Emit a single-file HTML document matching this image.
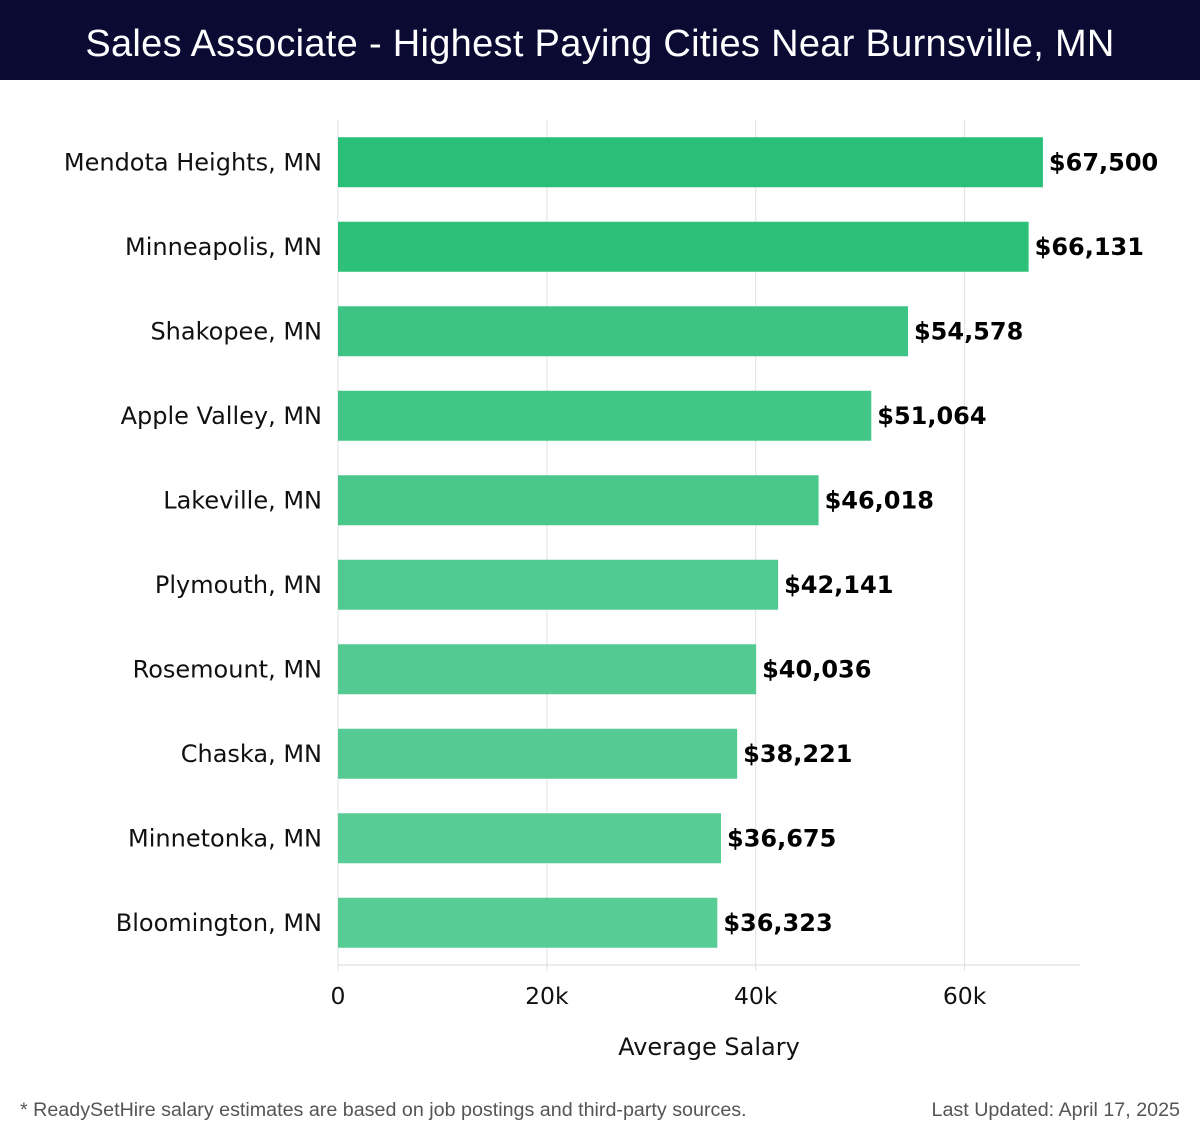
<!DOCTYPE html>
<html><head><meta charset="utf-8"><style>
body{margin:0;width:1200px;height:1140px;background:#fff;overflow:hidden;font-family:"DejaVu Sans","Liberation Sans",sans-serif}
#title{position:absolute;left:0;top:0;width:1200px;height:80px;background:#0b0a33;color:#fff;font-family:"Liberation Sans",sans-serif;font-size:38px;font-weight:300;text-align:center;line-height:88px;letter-spacing:0.3px}
.foot{position:absolute;top:1099px;font-family:"Liberation Sans",sans-serif;font-size:19.7px;color:#555}
</style></head><body>
<div id="title">Sales Associate - Highest Paying Cities Near Burnsville, MN</div>
<svg id="chart" width="1200" height="1140" style="position:absolute;left:0;top:0"></svg>
<div class="foot" style="left:20px">* ReadySetHire salary estimates are based on job postings and third-party sources.</div>
<div class="foot" style="right:20px">Last Updated: April 17, 2025</div>
<script>
const cities=["Mendota Heights, MN","Minneapolis, MN","Shakopee, MN","Apple Valley, MN","Lakeville, MN","Plymouth, MN","Rosemount, MN","Chaska, MN","Minnetonka, MN","Bloomington, MN"];
const salaries=[67500,66131,54578,51064,46018,42141,40036,38221,36675,36323];
const ticks=[0,20000,40000,60000];
const tickLabels=["0","20k","40k","60k"];
const NS="http://www.w3.org/2000/svg";
const svg=document.getElementById('chart');
const x0=338,x1=1080,xMax=71050,top0=120,bot=965;
const band=(bot-top0)/cities.length;
const x=v=>x0+v/xMax*(x1-x0);
const y=i=>top0+band*i+band/2;
function mk(t,a){const e=document.createElementNS(NS,t);for(const k in a)e.setAttribute(k,a[k]);svg.appendChild(e);return e;}
ticks.forEach((t,i)=>{
 const g=mk('line',{x1:x(t),x2:x(t),y1:top0,y2:bot+6,stroke:'#e0e0e0','stroke-width':1});
 
 
 const l=mk('text',{x:x(t),y:1004,'text-anchor':'middle','font-size':23.5,fill:'#111'});
 l.textContent=tickLabels[i];
 
 
});
const ax=mk('line',{x1:x0,x2:x1,y1:bot,y2:bot,stroke:'#d8d8d8','stroke-width':1});


const maxV=Math.max(...salaries),minV=Math.min(...salaries);
salaries.forEach((v,i)=>{
 const f=(maxV-v)/(maxV-minV);
 const r=Math.round(42+f*46),g=Math.round(191+f*13),b=Math.round(120+f*29);
 const bar=mk('rect',{x:x0,y:y(i)-25,width:x(v)-x0,height:50,fill:`rgb(${r},${g},${b})`});
 
 
 const vl=mk('text',{x:x(v)+6,y:y(i)+8,'font-size':24,'font-weight':'bold',fill:'#000'});
 vl.textContent='$'+v.toLocaleString('en-US');
 
 
 const cl=mk('text',{x:322,y:y(i)+8,'text-anchor':'end','font-size':24,fill:'#111'});
 cl.textContent=cities[i];
 
 
});
const at=mk('text',{x:709,y:1055,'text-anchor':'middle','font-size':24,fill:'#111'});
at.textContent='Average Salary';


</script>
</body></html>
